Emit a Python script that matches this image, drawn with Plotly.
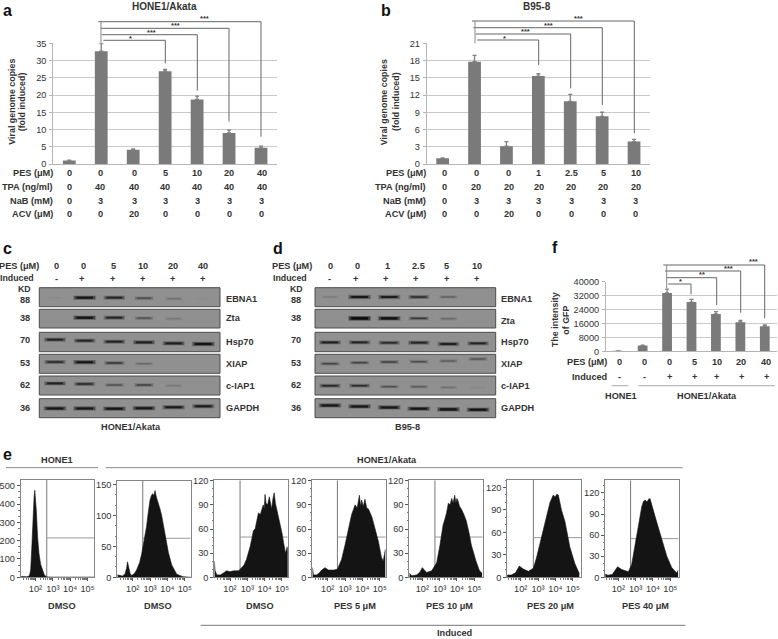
import plotly.graph_objects as go

W, H = 778, 639
FONT = "Liberation Sans"
TXT = "#333333"

# ---------- bar data ----------
a_vals = [1, 32.7, 4.1, 26.9, 18.7, 9, 4.7]
a_errs = [0.1, 2.2, 0.3, 0.5, 1, 0.8, 0.5]
a_pes = ["0", "0", "0", "5", "10", "20", "40"]
a_tpa = ["0", "40", "40", "40", "40", "40", "40"]
a_nab = ["0", "3", "3", "3", "3", "3", "3"]
a_acv = ["0", "0", "20", "0", "0", "0", "0"]

b_vals = [1, 17.8, 3.1, 15.3, 10.9, 8.3, 3.9]
b_errs = [0.05, 1.1, 0.8, 0.4, 1.2, 0.7, 0.4]
b_pes = ["0", "0", "0", "1", "2.5", "5", "10"]
b_tpa = ["0", "20", "20", "20", "20", "20", "20"]
b_nab = ["0", "3", "3", "3", "3", "3", "3"]
b_acv = ["0", "0", "20", "0", "0", "0", "0"]

f_vals = [200, 3300, 33500, 28300, 21500, 16700, 14400]
f_errs = [100, 200, 2200, 1500, 1300, 1000, 800]
f_pes = ["0", "0", "0", "5", "10", "20", "40"]
f_ind = ["-", "-", "+", "+", "+", "+", "+"]

# ---------- blot data: band strength per lane, band height per lane ----------
blot_proteins = ["EBNA1", "Zta", "Hsp70", "XIAP", "c-IAP1", "GAPDH"]
blot_kd = ["88", "38", "70", "53", "62", "36"]
c_pes = ["0", "0", "5", "10", "20", "40"]
d_pes = ["0", "0", "1", "2.5", "5", "10"]
induced = ["-", "+", "+", "+", "+", "+"]
c_strength = [
    [0.03, 1.0, 0.8, 0.45, 0.2, 0.02],
    [0.0, 1.05, 0.8, 0.4, 0.15, 0.0],
    [0.85, 0.8, 0.85, 0.9, 0.9, 1.05],
    [0.75, 1.0, 0.6, 0.25, 0.0, 0.0],
    [0.85, 0.75, 0.45, 0.5, 0.15, 0.0],
    [1.0, 1.0, 1.0, 1.0, 0.95, 0.9],
]
c_rowpos = [
    [10, 10, 10, 10.5, 11, 11],
    [30, 30, 30, 30.5, 31, 31],
    [52, 53, 54, 54.7, 55.7, 56.3],
    [74.3, 74.5, 75.3, 76, 76, 76],
    [95.7, 96.3, 97.3, 97.3, 98, 98],
    [120.7, 120.7, 121, 120.5, 119.5, 118.5],
]
d_strength = [
    [0.12, 1.0, 0.9, 0.7, 0.3, 0.0],
    [0.0, 1.3, 1.1, 0.6, 0.25, 0.0],
    [0.85, 0.8, 0.75, 0.8, 0.85, 0.8],
    [0.5, 0.5, 0.5, 0.45, 0.35, 0.4],
    [0.75, 0.7, 0.4, 0.35, 0.2, 0.05],
    [1.0, 1.0, 1.0, 1.0, 1.05, 1.05],
]
d_rowpos = [
    [9.3, 9.3, 9.3, 9.3, 9.3, 9.3],
    [30.7, 30.7, 30.7, 30.7, 31, 31],
    [54.7, 54.7, 55, 55, 56.3, 55.7],
    [76, 75, 74.3, 74, 73.3, 71.3],
    [98, 98, 99, 99, 99.7, 100],
    [117.7, 118.7, 119.7, 121, 121.7, 122],
]

# ---------- flow histograms (log10 fluorescence, counts) ----------
h1_x = [1.17, 1.5, 1.65, 1.72, 1.78, 1.85, 1.92, 1.96, 2.0, 2.05, 2.12, 2.2, 2.3, 2.4, 2.5, 2.6, 2.7, 3.0, 5.42]
h1_y = [5, 3, 8, 40, 150, 330, 440, 475, 440, 360, 220, 130, 70, 35, 15, 5, 2, 1, 1]
h2_x = [1.12, 1.4, 1.55, 1.65, 1.7, 1.76, 1.85, 1.94, 2.1, 2.23, 2.4, 2.52, 2.66, 2.8, 2.9, 3.0, 3.08, 3.15, 3.22, 3.29, 3.36, 3.48, 3.58, 3.67, 3.77, 3.87, 3.96, 4.06, 4.25, 4.54, 4.9, 5.35]
h2_y = [4, 2, 5, 15, 25, 18, 6, 3, 6, 12, 24, 38, 58, 82, 105, 125, 132, 135, 132, 140, 130, 120, 110, 100, 85, 70, 55, 40, 20, 5, 1, 0]
h3_x = [1.1, 1.14, 1.25, 1.45, 1.6, 1.8, 2.0, 2.2, 2.5, 2.7, 2.8, 2.95, 3.07, 3.16, 3.26, 3.35, 3.45, 3.55, 3.64, 3.75, 3.83, 3.92, 3.98, 4.02, 4.08, 4.17, 4.27, 4.33, 4.4, 4.48, 4.55, 4.62, 4.7, 4.85, 5.0, 5.1, 5.2, 5.3, 5.35]
h3_y = [20, 8, 3, 3, 5, 8, 7, 8, 8, 12, 15, 22, 30, 38, 48, 58, 60, 72, 80, 78, 85, 90, 85, 103, 92, 90, 100, 92, 85, 98, 105, 92, 85, 70, 55, 42, 30, 38, 30]
h4_x = [1.12, 1.18, 1.35, 1.5, 1.65, 1.85, 2.04, 2.33, 2.56, 2.7, 2.8, 3.0, 3.2, 3.38, 3.5, 3.58, 3.7, 3.83, 3.9, 3.96, 4.05, 4.15, 4.25, 4.35, 4.55, 4.73, 4.92, 5.1, 5.2, 5.33]
h4_y = [12, 3, 3, 5, 9, 12, 9, 9, 10, 16, 22, 40, 60, 78, 85, 90, 86, 102, 88, 96, 88, 97, 86, 85, 75, 60, 45, 25, 20, 35]
h5_x = [1.25, 1.4, 1.67, 1.85, 2.0, 2.25, 2.54, 2.83, 3.02, 3.2, 3.3, 3.4, 3.5, 3.6, 3.7, 3.78, 3.87, 3.94, 4.0, 4.06, 4.15, 4.25, 4.4, 4.54, 4.7, 4.83, 5.1, 5.3, 5.45]
h5_y = [5, 2, 3, 6, 12, 6, 8, 18, 40, 65, 72, 80, 92, 90, 98, 92, 102, 92, 98, 95, 88, 85, 78, 70, 55, 40, 20, 8, 5]
h6_x = [1.1, 1.15, 1.45, 1.7, 1.92, 2.15, 2.44, 2.73, 2.9, 3.1, 3.3, 3.5, 3.69, 3.88, 3.98, 4.08, 4.17, 4.26, 4.35, 4.55, 4.84, 5.13, 5.3, 5.38]
h6_y = [30, 3, 3, 6, 15, 11, 8, 12, 25, 45, 65, 85, 100, 110, 107, 111, 110, 100, 90, 75, 40, 18, 8, 5]
h7_x = [1.2, 1.4, 1.65, 1.96, 2.2, 2.58, 2.77, 2.96, 3.15, 3.35, 3.45, 3.55, 3.65, 3.75, 3.83, 3.92, 4.02, 4.2, 4.5, 4.8, 5.08, 5.37, 5.45]
h7_y = [5, 3, 4, 15, 11, 8, 18, 45, 75, 100, 108, 110, 107, 111, 112, 105, 95, 80, 55, 30, 14, 6, 10]
hist_x = [h1_x, h2_x, h3_x, h4_x, h5_x, h6_x, h7_x]
hist_y = [h1_y, h2_y, h3_y, h4_y, h5_y, h6_y, h7_y]
hist_labels = ["DMSO", "DMSO", "DMSO", "PES 5 μM", "PES 10 μM", "PES 20 μM", "PES 40 μM"]
hist_gate_x = [2.65, 2.58, 2.58, 2.56, 2.73, 2.73, 2.71]
hist_gate_y = [215, 63, 50, 50, 50, 53, 55]
hist_top = [531, 156, 120.5, 120.5, 120.5, 130, 138]
hist_step = [100, 50, 30, 30, 30, 30, 30]
hist_ymax = [500, 150, 120, 120, 120, 120, 120]
hist_tickvals = [2, 3, 4, 5]
hist_ticktext = ["10²", "10³", "10⁴", "10⁵"]
hist_minor = [1.3, 1.48, 1.6, 1.7, 1.78, 1.85, 1.9, 1.95, 2.3, 2.48, 2.6, 2.7, 2.78, 2.85, 2.9, 2.95,
              3.3, 3.48, 3.6, 3.7, 3.78, 3.85, 3.9, 3.95, 4.3, 4.48, 4.6, 4.7, 4.78, 4.85, 4.9, 4.95]

# ---------- helpers ----------
fig = go.Figure()
anns, shapes = [], []
layout = {}
nax = [0]


def px(x):
    return x / W


def py(y):
    return 1 - y / H


def text(x, y, s, size=9.2, bold=True, anchor="center", color=TXT, angle=0):
    anns.append(dict(x=px(x), y=py(y), xref="paper", yref="paper", text=f"<b>{s}</b>" if bold else s,
                     showarrow=False, xanchor=anchor, yanchor="middle", textangle=angle,
                     font=dict(family=FONT, size=size, color=color), borderpad=0, borderwidth=0))


def line(x0, y0, x1, y1, color="#777", width=1, layer="above"):
    shapes.append(dict(type="line", xref="paper", yref="paper", x0=px(x0), y0=py(y0), x1=px(x1), y1=py(y1),
                       line=dict(color=color, width=width), layer=layer))


def axes(x0, x1, ytop, ybot, xax, yax):
    nax[0] += 1
    n = nax[0]
    s = "" if n == 1 else str(n)
    layout[f"xaxis{s}"] = dict(domain=[px(x0), px(x1)], anchor=f"y{s}", **xax)
    layout[f"yaxis{s}"] = dict(domain=[py(ybot), py(ytop)], anchor=f"x{s}", **yax)
    return f"x{s}", f"y{s}"


def bar_panel(x0, x1, ytop, ybot, vals, errs, ymax, step):
    xa, ya = axes(
        x0, x1, ytop, ybot,
        dict(range=[-0.5, 6.5], showticklabels=False, ticks="", showgrid=False, zeroline=False,
             showline=True, linecolor="#b5b5b5", linewidth=1),
        dict(range=[0, ymax], dtick=step, showgrid=True, gridcolor="#c9c9c9", gridwidth=1, zeroline=False,
             showline=True, linecolor="#b5b5b5", linewidth=1, ticks="outside", ticklen=3, tickcolor="#b5b5b5",
             tickfont=dict(family=FONT, size=9.2, color=TXT), tickformat="d", ticklabelstandoff=1),
    )
    fig.add_trace(go.Bar(x=list(range(7)), y=vals, xaxis=xa, yaxis=ya, marker=dict(color="#7a7a7a", line=dict(width=0)),
                         error_y=dict(type="data", array=errs, arrayminus=[0] * 7, symmetric=False,
                                      color="#808080", thickness=1.3, width=2)))


def bracket(xl, xr, y, ydown, color="#666"):
    line(xl, y, xr, y, color)
    line(xr, y, xr, ydown, color)


def table(label_x, col_x, rows_y, labels, rows):
    for yy, lab, row in zip(rows_y, labels, rows):
        text(label_x, yy, lab, anchor="right")
        for xx, v in zip(col_x, row):
            text(xx, yy, v)


def blot(x0, x1, lanes, strength, rowpos, hl=11.5):
    lane_px = (lanes[-1] - lanes[0]) / 5
    r0 = (x0 - lanes[0]) / lane_px
    r1 = (x1 - lanes[0]) / lane_px
    xa, ya = axes(x0, x1, 287.7, 417.7,
                  dict(range=[r0, r1], visible=False),
                  dict(range=[130, 0], visible=False))
    rows = [(287.7, 306.7), (309.3, 328), (332.3, 351.7), (354.3, 373.3), (376, 395), (398.7, 417.7)]
    for t, b in rows:
        shapes.append(dict(type="rect", xref="paper", yref="paper", x0=px(x0), x1=px(x1), y0=py(b), y1=py(t),
                           fillcolor="#909090", line=dict(color="#4c4c4c", width=1), layer="below"))
    for st_row, pos_row in zip(strength, rowpos):
        for lane, (st, yv) in enumerate(zip(st_row, pos_row)):
            if st <= 0:
                continue
            half = hl * (0.7 + 0.3 * min(st, 1)) / lane_px
            th = 0.9 + 1.4 * st
            for wd, alpha, k in ((th + 2.2, 0.2, 1.0), (th + 0.9, 0.4, 0.9), (th - 0.3, 0.8, 0.72)):
                fig.add_trace(go.Scatter(x=[lane - half * k, lane + half * k], y=[yv, yv], xaxis=xa, yaxis=ya,
                                         mode="lines", hoverinfo="skip",
                                         line=dict(color=f"rgba(10,10,10,{min(1, alpha * st):.3f})", width=max(wd, 0.6))))


def blot_text(lane_lab_x, ind_x, pes, x_pes_right, x_ind_left, kd_x, prot_x, prot_y, kd_y, title_x, title):
    text(x_pes_right, 265.7, "PES (μM)", anchor="right")
    text(x_ind_left, 278.3, "Induced", anchor="left", size=8.8)
    text(kd_x, 289, "KD", size=8.8)
    for x, s in zip(lane_lab_x, pes):
        text(x, 265.7, s)
    for x, s in zip(ind_x, induced):
        text(x, 279.3, s)
    for yy, s in zip(kd_y, blot_kd):
        text(kd_x, yy, s)
    for yy, s in zip(prot_y, blot_proteins):
        text(prot_x, yy, s, anchor="left")
    text(title_x, 426.7, title)


def hist(i, x0, x1, ytop, y_at_max, ybot, tick2):
    # tick2: pixel of 10^2, decades 17.33 px apart
    dec = 17.33
    rx = [2 + (x0 - tick2) / dec, 2 + (x1 - tick2) / dec]
    top = hist_top[i]
    xa, ya = axes(
        x0, x1, ytop, ybot,
        dict(range=rx, tickvals=hist_tickvals, ticktext=hist_ticktext, showgrid=False, zeroline=False, showline=True,
             mirror=True, linecolor="#858585", linewidth=1, ticks="outside", ticklen=3, tickcolor="#555",
             tickfont=dict(family=FONT, size=9.2, color=TXT),
             minor=dict(tickvals=hist_minor, ticks="outside", ticklen=1.5, tickcolor="#777")),
        dict(range=[0, top], dtick=hist_step[i], showgrid=False, zeroline=False, showline=True, mirror=True,
             linecolor="#858585", linewidth=1, ticks="outside", ticklen=3, tickcolor="#555",
             tickfont=dict(family=FONT, size=9.2, color=TXT), tickformat="d",
             tickvals=list(range(0, hist_ymax[i] + 1, hist_step[i])),
             minor=dict(dtick=hist_step[i] / 3, ticks="outside", ticklen=1.5, tickcolor="#777")),
    )
    gx, gy = hist_gate_x[i], hist_gate_y[i]
    fig.add_trace(go.Scatter(x=[gx, gx], y=[0, top], xaxis=xa, yaxis=ya, mode="lines", hoverinfo="skip",
                             line=dict(color="#777", width=1)))
    fig.add_trace(go.Scatter(x=[gx, rx[1]], y=[gy, gy], xaxis=xa, yaxis=ya, mode="lines", hoverinfo="skip",
                             line=dict(color="#999", width=1)))
    fig.add_trace(go.Scatter(x=hist_x[i], y=hist_y[i], xaxis=xa, yaxis=ya, mode="lines", fill="tozeroy",
                             fillcolor="#141414", hoverinfo="skip", line=dict(color="#141414", width=0.6)))


# ---------- panel a ----------
bar_panel(53.3, 277, 43.3, 164, a_vals, a_errs, 35, 5)
text(164, 6.5, "HONE1/Akata", size=10)
text(11.7, 102, "Viral genome copies", size=8.9, angle=-90)
text(22.3, 102, "(fold induced)", size=8.9, angle=-90)
a_cols = [69.7, 100, 134, 165, 197, 229, 261.5]
table(52.5, a_cols, [173.3, 187.3, 200.7, 214.3], ["PES (μM)", "TPA (ng/ml)", "NaB (mM)", "ACV (μM)"],
      [a_pes, a_tpa, a_nab, a_acv])
bracket(98.3, 261, 21.7, 136.7)
bracket(100.7, 229, 28.3, 121.7)
bracket(101.7, 197.3, 34.7, 90.7)
bracket(103.3, 165.3, 40.3, 63.3)
line(101, 21.7, 101, 43.3, "#888")
for x, y, s in [(204.5, 19, "***"), (175, 25.7, "***"), (151.7, 32.3, "***"), (130.3, 38.3, "*")]:
    text(x, y, s, size=7.5)

# ---------- panel b ----------
bar_panel(426.7, 650, 43.3, 164, b_vals, b_errs, 21, 3)
text(536.7, 6.5, "B95-8", size=10)
text(384.3, 102, "Viral genome copies", size=8.9, angle=-90)
text(396, 102, "(fold induced)", size=8.9, angle=-90)
b_cols = [444, 476.3, 508.7, 538.7, 571, 603.3, 635.7]
table(426.5, b_cols, [173.3, 187.3, 200.7, 214.3], ["PES (μM)", "TPA (ng/ml)", "NaB (mM)", "ACV (μM)"],
      [b_pes, b_tpa, b_nab, b_acv])
bracket(472, 634.3, 21, 133.3)
bracket(473.3, 602.3, 27.7, 105)
bracket(475.7, 570.7, 34, 88.3)
bracket(477.3, 538.7, 40, 65)
line(475, 21, 475, 43.3, "#888")
for x, y, s in [(578.3, 19, "***"), (548.7, 25.7, "***"), (525, 31.7, "***"), (504.3, 38.3, "*")]:
    text(x, y, s, size=7.5)

# ---------- panel f ----------
bar_panel(606, 777, 281.7, 351.3, f_vals, f_errs, 40000, 8000)
text(555, 320, "The intensity", size=8.9, angle=-90)
text(565.7, 320, "of GFP", size=8.9, angle=-90)
f_cols = [619, 644, 669, 694.3, 716.7, 741, 766]
table(606.5, f_cols, [362, 377.3], ["PES (μM)", "Induced"], [f_pes, f_ind])
text(620.7, 396, "HONE1")
text(707.3, 396, "HONE1/Akata")
line(611.7, 385.7, 628.3, 385.7, "#aaa")
line(638.3, 385.7, 775, 385.7, "#aaa")
bracket(663.3, 764.7, 265, 318.3)
bracket(665, 740.7, 271, 312.7)
bracket(666.7, 716.7, 277.7, 305)
bracket(668.3, 691, 284, 294.3)
line(666.7, 265, 666.7, 288, "#888")
for x, y, s in [(753.3, 261.7, "***"), (728.3, 268.3, "***"), (701.7, 274.3, "**"), (680, 281, "*")]:
    text(x, y, s, size=7.5)

# ---------- panels c, d ----------
blot(39.3, 220, [55, 84.7, 114.3, 144, 173.7, 203.3], c_strength, c_rowpos)
blot_text([56.7, 83.3, 113.3, 143.3, 173.3, 203.3], [56, 81.7, 112.3, 142.3, 172.3, 202.7], c_pes, 38.5, 0, 24.5,
          226, [299.3, 318.3, 341.7, 364, 385.7, 407.7], [300, 318.3, 340, 362.7, 385, 407.7], 130.7, "HONE1/Akata")
blot(315, 495.7, [330, 359.6, 389.2, 418.8, 448.4, 478], d_strength, d_rowpos)
blot_text([330, 357.3, 387.3, 418.3, 447, 476.7], [329.3, 355, 385.3, 416, 446, 476.7], d_pes, 312, 273, 296,
          501.3, [299.3, 320.7, 342, 364, 385.7, 407.7], [300, 318.3, 340, 362.7, 385, 407.7], 407.7, "B95-8")

# ---------- panel e ----------
hist(0, 20.7, 94.3, 480, 485.7, 577.3, 35.5)
hist(1, 117.3, 190.7, 480.7, 484, 577.3, 132.7)
hist(2, 214.3, 287.7, 480.3, 483.3, 577.3, 230)
hist(3, 312.3, 385.7, 480.3, 483.3, 577.3, 327.7)
hist(4, 409.3, 482.7, 480.3, 483.3, 577.3, 422.3)
hist(5, 507.3, 581.3, 480, 487.7, 577.3, 520.7)
hist(6, 605.3, 678.7, 480.3, 492.7, 577.3, 618.3)
for x, s in zip([62, 157.7, 260, 355, 449, 550.7, 645.7], hist_labels):
    text(x, 606, s)
text(57, 460, "HONE1")
text(387, 460, "HONE1/Akata")
line(6, 467.7, 98, 467.7, "#888")
line(105.7, 467.7, 682.7, 467.7, "#888")
line(200.7, 625.3, 685.3, 625.3, "#777")
text(455, 632.5, "Induced")

# ---------- panel letters ----------
for x, y, s in [(8, 10, "a"), (386, 10, "b"), (7, 248, "c"), (278, 248, "d"), (7, 455, "e"), (555, 247, "f")]:
    text(x, y, s, size=16, color="#111")

fig.update_layout(width=W, height=H, margin=dict(l=0, r=0, t=0, b=0, autoexpand=False), paper_bgcolor="white",
                  plot_bgcolor="rgba(0,0,0,0)",
                  showlegend=False, barmode="overlay", bargap=0.6, annotations=anns, shapes=shapes, **layout)
for tr in fig.data:
    if tr.type == "bar":
        tr.width = 0.4
fig.write_html("out.html", config={"displayModeBar": False},
               post_script="document.body.style.margin='0';document.body.style.overflow='hidden';")
